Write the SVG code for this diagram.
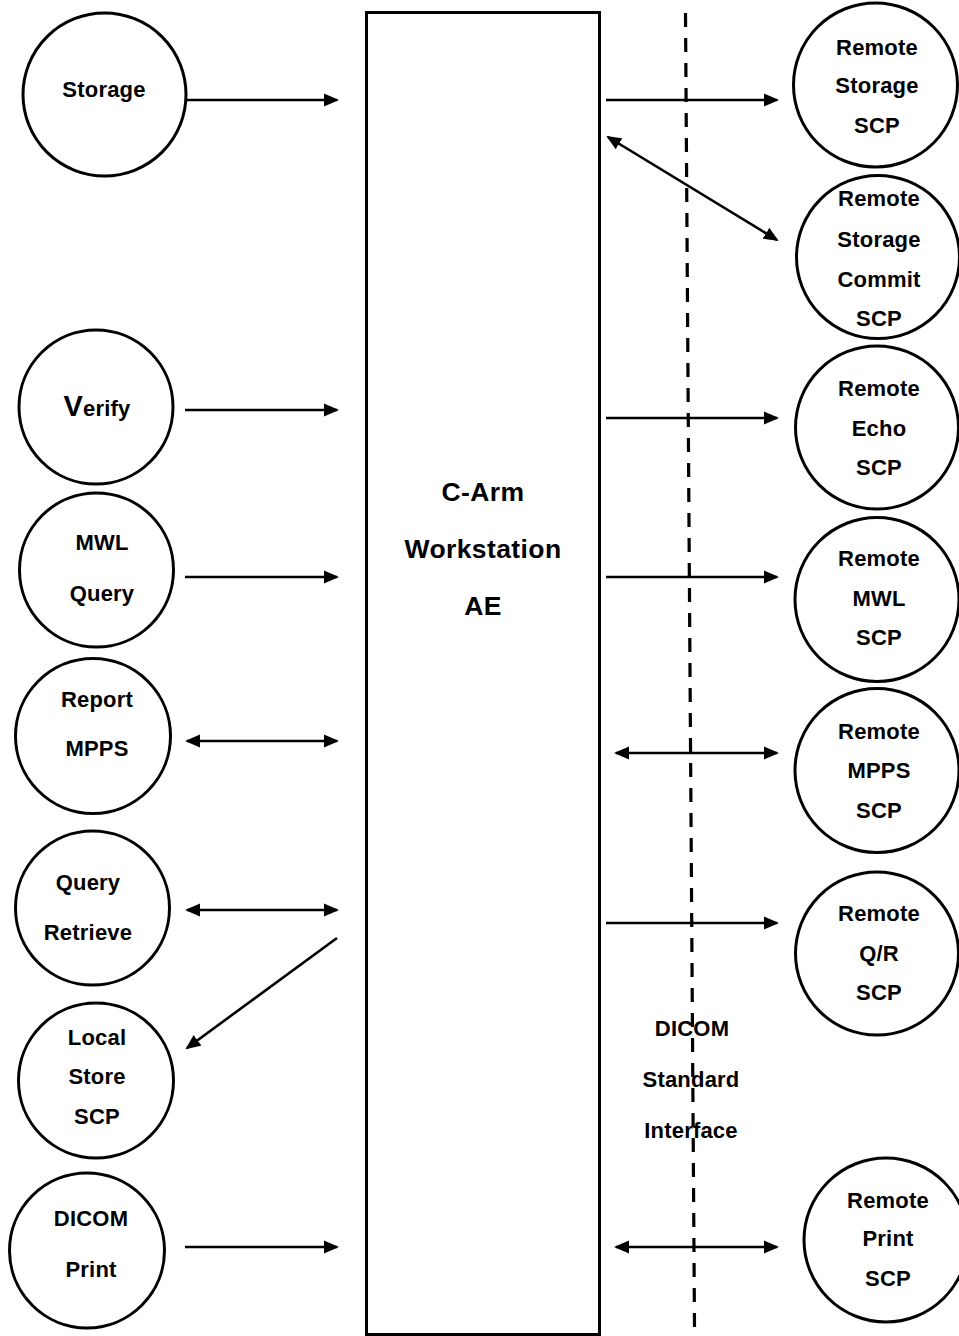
<svg xmlns="http://www.w3.org/2000/svg" width="959" height="1336" viewBox="0 0 959 1336">
<style>
.n{fill:#fff;stroke:#000;stroke-width:3}
.t{font-family:"Liberation Sans",Arial,sans-serif;font-weight:bold;font-size:22px;letter-spacing:0.2px;fill:#000;text-anchor:middle}
.big{font-size:26.5px;letter-spacing:0.4px}
.c{stroke:#000;stroke-width:2.6;fill:none}
.d{stroke:#000;stroke-width:3.2;fill:none;stroke-dasharray:14 11}
</style>
<defs>
<marker id="ah" markerUnits="userSpaceOnUse" markerWidth="15" markerHeight="14" refX="13" refY="7" orient="auto-start-reverse">
<path d="M0,0.5 L15,7 L0,13.5 z" fill="#000"/>
</marker>
</defs>
<rect width="959" height="1336" fill="#fff"/>
<g id="ae">
<rect class="n" x="366.5" y="12.5" width="233" height="1322"/>
<text class="t big" x="483" y="501">C-Arm</text>
<text class="t big" x="483" y="558">Workstation</text>
<text class="t big" x="483" y="615">AE</text>
</g>
<g id="interface">
<line class="d" x1="685.5" y1="13" x2="694.5" y2="1327"/>
<text class="t" x="692" y="1036">DICOM</text>
<text class="t" x="691" y="1087">Standard</text>
<text class="t" x="691" y="1138">Interface</text>
</g>
<g id="storage"><circle class="n" cx="104.5" cy="94.5" r="81.5"/><text class="t" x="104" y="97">Storage</text></g>
<g id="verify"><circle class="n" cx="96" cy="407" r="77"/><text class="t" x="97" y="416"><tspan font-size="29">V</tspan>erify</text></g>
<g id="mwl"><circle class="n" cx="96.5" cy="570" r="77"/><text class="t" x="102" y="550">MWL</text><text class="t" x="102" y="601">Query</text></g>
<g id="mpps"><circle class="n" cx="93" cy="736" r="77.5"/><text class="t" x="97" y="707">Report</text><text class="t" x="97" y="756">MPPS</text></g>
<g id="qr"><circle class="n" cx="92.5" cy="908" r="77"/><text class="t" x="88" y="890">Query</text><text class="t" x="88" y="940">Retrieve</text></g>
<g id="localstore"><circle class="n" cx="96" cy="1080.5" r="77.5"/><text class="t" x="97" y="1045">Local</text><text class="t" x="97" y="1084">Store</text><text class="t" x="97" y="1124">SCP</text></g>
<g id="print"><circle class="n" cx="87" cy="1250.5" r="77.5"/><text class="t" x="91" y="1226">DICOM</text><text class="t" x="91" y="1277">Print</text></g>
<g id="rstorage"><circle class="n" cx="875.5" cy="85" r="82"/><text class="t" x="877" y="55">Remote</text><text class="t" x="877" y="93">Storage</text><text class="t" x="877" y="133">SCP</text></g>
<g id="rcommit"><circle class="n" cx="878" cy="257" r="81.5"/><text class="t" x="879" y="206">Remote</text><text class="t" x="879" y="247">Storage</text><text class="t" x="879" y="287">Commit</text><text class="t" x="879" y="326">SCP</text></g>
<g id="recho"><circle class="n" cx="877" cy="427.5" r="81.5"/><text class="t" x="879" y="396">Remote</text><text class="t" x="879" y="436">Echo</text><text class="t" x="879" y="475">SCP</text></g>
<g id="rmwl"><circle class="n" cx="877" cy="599.5" r="82"/><text class="t" x="879" y="566">Remote</text><text class="t" x="879" y="606">MWL</text><text class="t" x="879" y="645">SCP</text></g>
<g id="rmpps"><circle class="n" cx="877" cy="770.5" r="82"/><text class="t" x="879" y="739">Remote</text><text class="t" x="879" y="778">MPPS</text><text class="t" x="879" y="818">SCP</text></g>
<g id="rqr"><circle class="n" cx="877" cy="953.5" r="81.5"/><text class="t" x="879" y="921">Remote</text><text class="t" x="879" y="961">Q/R</text><text class="t" x="879" y="1000">SCP</text></g>
<g id="rprint"><circle class="n" cx="886" cy="1240" r="82"/><text class="t" x="888" y="1208">Remote</text><text class="t" x="888" y="1246">Print</text><text class="t" x="888" y="1286">SCP</text></g>
<g id="connectors">
<line class="c" x1="186" y1="100" x2="337" y2="100" marker-end="url(#ah)"/>
<line class="c" x1="185" y1="410" x2="337" y2="410" marker-end="url(#ah)"/>
<line class="c" x1="185" y1="577" x2="337" y2="577" marker-end="url(#ah)"/>
<line class="c" x1="187" y1="741" x2="337" y2="741" marker-start="url(#ah)" marker-end="url(#ah)"/>
<line class="c" x1="187" y1="910" x2="337" y2="910" marker-start="url(#ah)" marker-end="url(#ah)"/>
<line class="c" x1="337" y1="938" x2="187" y2="1048" marker-end="url(#ah)"/>
<line class="c" x1="185" y1="1247" x2="337" y2="1247" marker-end="url(#ah)"/>
<line class="c" x1="606" y1="100" x2="777" y2="100" marker-end="url(#ah)"/>
<line class="c" x1="608" y1="137" x2="777" y2="240" marker-start="url(#ah)" marker-end="url(#ah)"/>
<line class="c" x1="606" y1="418" x2="777" y2="418" marker-end="url(#ah)"/>
<line class="c" x1="606" y1="577" x2="777" y2="577" marker-end="url(#ah)"/>
<line class="c" x1="616" y1="753" x2="777" y2="753" marker-start="url(#ah)" marker-end="url(#ah)"/>
<line class="c" x1="606" y1="923" x2="777" y2="923" marker-end="url(#ah)"/>
<line class="c" x1="616" y1="1247" x2="777" y2="1247" marker-start="url(#ah)" marker-end="url(#ah)"/>
</g>
</svg>
